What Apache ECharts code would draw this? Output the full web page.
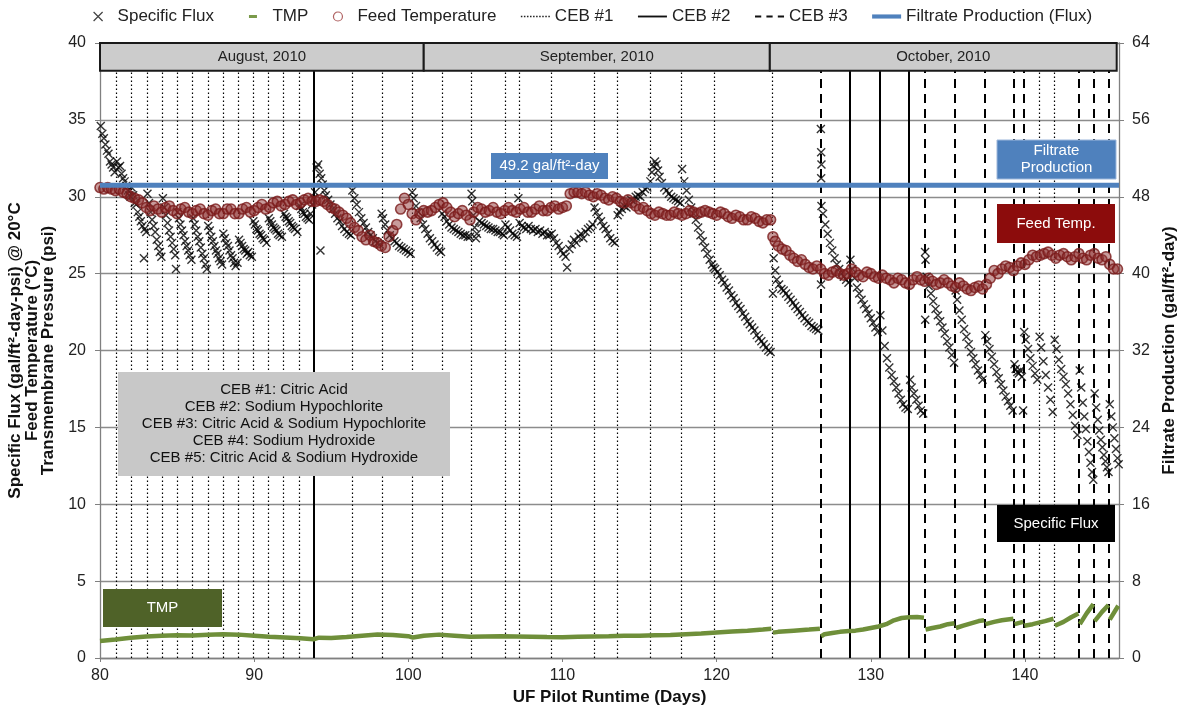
<!DOCTYPE html>
<html><head><meta charset="utf-8">
<script src="https://cdn.jsdelivr.net/npm/echarts@6/dist/echarts.min.js"></script>
<style>html,body{margin:0;padding:0;background:#fff}#chart{width:1177px;height:710px}</style>
</head><body><div id="chart"></div>
<script>
// ---------------- data ----------------
const monthNames = ['August, 2010', 'September, 2010', 'October, 2010'];
const monthStarts = [80, 101.0, 123.45];
const monthEnds = [101.0, 123.45, 145.95];

const ceb1Days = [81.04, 82.01, 83.03, 84.04, 84.97, 85.99, 86.98, 87.96, 88.97, 89.90, 90.90, 91.89, 92.91,
  96.32, 98.31, 100.21, 102.16, 104.06, 106.26, 107.17, 109.25, 112.04, 113.53, 115.65, 117.72, 119.84, 123.60,
  140.92, 141.89];
const ceb2Days = [93.90, 128.64, 130.58, 132.51];
const ceb3Days = [126.74, 133.50, 135.47, 137.39, 139.29, 139.92, 143.51, 144.48, 145.46];

const filtrateDays = [80, 146.1];
const filtrateFlux = [49.2, 49.2];

const fluxData = [
[80.05,34.6],[80.15,34.1],[80.25,33.8],[80.35,33.4],[80.45,33.0],[80.55,32.8],[80.65,32.3],[80.75,32.1],[80.85,31.9],[80.95,31.6],
[81.1,32.3],[81.2,31.9],[81.3,32.0],[81.4,31.5],[81.5,31.2],[81.6,31.0],[81.7,30.7],[81.8,30.4],[81.9,30.1],[81.98,30.0],
[82.05,30.6],[82.15,30.1],[82.25,29.6],[82.35,29.5],[82.45,29.0],[82.55,28.7],[82.65,28.4],[82.75,28.1],[82.85,26.0],[82.9,27.9],[83.0,27.7],
[83.08,30.2],[83.18,29.6],[83.28,29.0],[83.38,28.5],[83.48,28.1],[83.58,27.7],[83.68,27.2],[83.78,26.8],[83.88,26.4],[83.98,26.1],
[84.08,29.9],[84.18,29.3],[84.28,28.8],[84.38,28.3],[84.48,27.8],[84.58,27.4],[84.68,27.0],[84.78,26.6],[84.88,26.2],[84.93,25.3],
[85.02,29.0],[85.12,28.6],[85.22,28.2],[85.32,27.8],[85.42,27.5],[85.52,27.1],[85.62,26.8],[85.72,26.5],[85.82,26.2],[85.93,25.9],
[86.04,28.6],[86.14,28.2],[86.24,27.8],[86.34,27.4],[86.44,27.1],[86.54,26.7],[86.64,26.3],[86.74,26.0],[86.84,25.6],[86.93,25.3],
[87.02,28.1],[87.12,27.8],[87.22,27.4],[87.32,27.1],[87.42,26.8],[87.52,26.5],[87.62,26.3],[87.72,26.0],[87.82,25.8],[87.92,25.6],
[88.0,27.6],[88.1,27.3],[88.2,27.0],[88.3,26.8],[88.4,26.5],[88.5,26.2],[88.6,26.0],[88.7,25.7],[88.8,25.5],[88.92,25.7],
[89.02,27.2],[89.12,27.0],[89.22,26.8],[89.32,26.6],[89.42,26.5],[89.52,26.3],[89.62,26.4],[89.72,26.2],[89.85,26.1],
[89.95,28.4],[90.05,28.2],[90.15,27.9],[90.25,27.8],[90.35,27.6],[90.45,27.5],[90.55,27.3],[90.65,27.2],[90.8,27.0],
[90.95,28.6],[91.05,28.4],[91.15,28.2],[91.25,28.0],[91.35,27.9],[91.45,27.8],[91.55,27.6],[91.65,27.5],[91.8,27.4],
[91.94,28.9],[92.04,28.7],[92.14,28.6],[92.24,28.4],[92.34,28.3],[92.44,28.1],[92.54,28.0],[92.64,27.9],[92.8,27.7],
[92.96,29.4],[93.06,29.2],[93.16,29.0],[93.26,28.9],[93.36,28.7],[93.46,28.6],[93.56,28.5],[93.66,28.9],[93.76,29.5],[93.86,29.9],
[93.95,30.3],[94.05,31.9],[94.15,32.1],[94.25,31.5],[94.3,26.5],[94.35,31.2],[94.45,30.8],[94.55,30.4],[94.65,30.1],[94.8,29.8],[94.95,29.5],[95.1,29.2],[95.25,28.9],[95.4,28.6],[95.55,28.4],[95.7,28.1],[95.85,27.9],[96.0,27.7],[96.15,27.6],[96.28,27.5],
[96.37,30.4],[96.5,29.9],[96.65,29.5],[96.8,29.0],[96.95,28.6],[97.1,28.3],[97.25,28.0],[97.4,27.7],[97.55,27.5],[97.7,27.3],[97.85,27.1],[98.0,27.0],[98.15,26.9],[98.27,28.9],
[98.36,28.6],[98.5,28.2],[98.65,27.8],[98.8,27.5],[98.95,27.3],[99.1,27.1],[99.25,27.0],[99.4,26.8],[99.55,26.7],[99.7,26.6],[99.85,26.5],[100.0,26.4],[100.15,26.3],
[100.25,30.3],[100.35,29.9],[100.5,29.4],[100.65,29.0],[100.8,28.6],[100.95,28.2],[101.1,27.9],[101.25,27.6],[101.4,27.3],[101.55,27.1],[101.7,26.9],[101.85,26.7],[102.0,26.5],[102.12,26.4],
[102.2,28.9],[102.35,28.7],[102.5,28.4],[102.65,28.2],[102.8,28.0],[102.95,27.9],[103.1,27.8],[103.25,27.7],[103.4,27.6],[103.55,27.5],[103.7,27.5],[103.85,27.4],[104.0,27.4],
[104.1,30.2],[104.15,29.7],[104.22,28.8],[104.3,28.0],[104.38,27.3],[104.45,27.6],[104.6,28.4],[104.75,28.3],[104.9,28.2],[105.05,28.1],[105.2,28.0],[105.35,27.9],[105.5,27.9],[105.65,27.8],[105.8,27.7],[105.95,27.7],[106.1,27.6],[106.2,27.5],
[106.3,28.2],[106.45,28.0],[106.6,27.8],[106.75,27.6],[106.9,27.5],[107.05,27.4],[107.14,29.9],
[107.22,28.3],[107.35,28.1],[107.5,28.0],[107.65,27.9],[107.8,28.1],[107.95,27.9],[108.1,27.8],[108.25,27.9],[108.4,27.7],[108.55,27.8],[108.7,27.6],[108.85,27.7],[109.0,27.5],[109.15,27.5],
[109.3,27.6],[109.45,27.3],[109.6,27.0],[109.75,26.8],[109.9,26.5],[110.05,26.3],[110.2,26.1],[110.3,25.4],[110.45,26.6],[110.6,26.9],[110.75,27.2],[110.9,27.0],[111.05,27.4],[111.2,27.6],[111.35,27.3],[111.5,27.7],[111.65,27.9],[111.8,28.0],[111.95,28.2],
[112.08,29.3],[112.2,29.0],[112.35,28.7],[112.5,28.4],[112.65,28.1],[112.8,27.9],[112.95,27.6],[113.1,27.3],[113.25,27.1],[113.4,27.0],
[113.58,28.8],[113.7,29.0],[113.85,29.2],[114.0,29.4],[114.15,29.3],[114.3,29.6],[114.45,29.8],[114.6,29.7],[114.75,30.0],[114.9,30.1],[115.05,30.0],[115.2,30.3],[115.35,30.5],[115.5,30.6],
[115.7,31.0],[115.8,31.6],[115.9,32.0],[116.0,32.3],[116.1,32.1],[116.2,31.7],[116.3,31.3],[116.45,30.9],[116.6,30.6],[116.75,30.4],[116.9,30.2],[117.05,30.0],[117.2,29.9],[117.35,29.8],[117.5,29.7],[117.65,29.6],
[117.76,31.8],[117.9,31.0],[118.05,30.4],[118.2,29.8],[118.35,29.3],[118.5,28.9],[118.65,28.5],[118.8,28.0],[118.95,27.5],[119.1,27.1],[119.25,26.7],[119.4,26.3],[119.55,25.9],[119.7,25.6],[119.8,25.4],
[119.9,25.3],[120.05,25.1],[120.2,24.9],[120.35,24.6],[120.5,24.4],[120.65,24.1],[120.8,23.9],[120.95,23.6],[121.1,23.4],[121.25,23.1],[121.4,22.9],[121.55,22.7],[121.7,22.4],[121.85,22.2],[122.0,21.9],[122.15,21.7],[122.3,21.5],[122.45,21.3],[122.6,21.0],[122.75,20.8],[122.9,20.6],[123.05,20.4],[123.2,20.2],[123.35,20.0],[123.5,19.9],
[123.65,23.7],[123.7,26.0],[123.8,25.2],[123.9,24.6],[124.05,24.3],[124.2,24.0],[124.35,23.9],[124.5,23.7],[124.65,23.5],[124.8,23.3],[124.95,23.1],[125.1,22.9],[125.25,22.7],[125.4,22.5],[125.55,22.3],[125.7,22.1],[125.85,21.9],[126.0,21.8],[126.15,21.6],[126.3,21.5],[126.45,21.4],[126.6,21.3],
[126.76,34.4],[126.78,32.9],[126.8,32.1],[126.78,31.2],[126.8,29.4],[126.77,24.3],[126.9,28.9],[127.05,28.2],[127.2,27.6],[127.35,27.0],[127.5,26.5],[127.65,26.0],[127.8,25.6],[127.95,25.3],[128.1,25.0],[128.25,24.8],[128.4,24.6],[128.55,24.4],
[128.68,25.9],[128.8,25.3],[128.95,24.7],[129.1,24.1],[129.25,23.7],[129.4,23.3],[129.55,23.0],[129.7,22.7],[129.85,22.4],[130.0,22.1],[130.15,21.8],[130.3,21.5],[130.45,21.2],
[130.62,22.3],[130.75,21.3],[130.9,20.3],[131.05,19.5],[131.2,18.9],[131.35,18.4],[131.5,18.0],[131.65,17.6],[131.8,17.2],[131.95,16.8],[132.1,16.5],[132.25,16.3],[132.4,16.2],
[132.55,18.1],[132.65,17.6],[132.8,17.2],[132.95,16.8],[133.1,16.4],[133.25,16.1],[133.4,15.9],
[133.52,26.4],[133.55,25.9],[133.53,22.0],[133.62,24.8],[133.75,24.2],[133.9,23.7],[134.05,23.2],[134.2,22.7],[134.35,22.3],[134.5,21.9],[134.65,21.5],[134.8,21.1],[134.95,20.6],[135.1,20.2],[135.25,19.7],[135.4,19.2],
[135.5,23.9],[135.6,23.3],[135.75,22.6],[135.9,22.0],[136.05,21.4],[136.2,20.9],[136.35,20.4],[136.5,19.9],[136.65,19.5],[136.8,19.1],[136.95,18.7],[137.1,18.4],[137.25,18.1],
[137.43,21.0],[137.55,20.6],[137.7,20.1],[137.85,19.6],[138.0,19.1],[138.15,18.6],[138.3,18.2],[138.45,17.8],[138.6,17.4],[138.75,17.0],[138.9,16.7],[139.05,16.4],[139.2,16.1],
[139.32,19.1],[139.4,18.8],[139.5,18.6],[139.6,18.5],[139.7,18.7],[139.8,18.3],[139.88,16.1],
[139.95,21.2],[140.05,20.7],[140.2,20.1],[140.35,19.5],[140.5,19.0],[140.65,18.5],[140.8,18.1],
[140.95,20.9],[141.05,20.2],[141.2,19.3],[141.35,18.4],[141.5,17.6],[141.65,16.8],[141.8,16.0],
[141.93,20.7],[142.05,20.1],[142.2,19.4],[142.35,18.8],[142.5,18.3],[142.65,17.8],[142.8,17.2],[142.95,16.5],[143.1,15.8],[143.25,15.1],[143.4,14.5],
[143.55,18.7],[143.65,17.6],[143.75,16.6],[143.85,15.7],[143.95,14.9],[144.05,14.1],[144.15,13.4],[144.25,12.7],[144.35,12.1],[144.43,11.6],
[144.52,17.2],[144.62,16.3],[144.72,15.5],[144.82,14.8],[144.92,14.2],[145.02,13.7],[145.12,13.2],[145.22,12.8],[145.32,12.4],[145.42,12.1],
[145.5,16.5],[145.6,15.7],[145.7,15.0],[145.8,14.3],[145.9,13.6],[146.0,13.0],[146.08,12.6]
];

const tempData = [
[80.0,30.6],[80.25,30.5],[80.5,30.6],[80.75,30.5],[81.0,30.4],[81.25,30.5],[81.5,30.3],[81.75,30.2],
[82.0,30.0],[82.25,29.9],[82.5,29.8],[82.75,29.6],[83.0,29.3],[83.25,29.1],[83.5,29.4],[83.75,29.2],
[84.0,29.0],[84.25,29.3],[84.5,29.4],[84.75,29.1],[85.0,28.9],[85.25,29.2],[85.5,29.3],[85.75,29.0],
[86.0,28.9],[86.25,29.1],[86.5,29.2],[86.75,28.9],[87.0,28.8],[87.25,29.1],[87.5,29.2],[87.75,28.9],
[88.0,28.9],[88.25,29.2],[88.5,29.2],[88.75,28.9],[89.0,28.9],[89.25,29.2],[89.5,29.3],[89.75,29.0],
[90.0,29.1],[90.25,29.3],[90.5,29.5],[90.75,29.2],[91.0,29.3],[91.25,29.6],[91.5,29.7],[91.75,29.4],
[92.0,29.5],[92.25,29.7],[92.5,29.8],[92.75,29.5],[93.0,29.6],[93.25,29.8],[93.5,29.9],[93.75,29.7],
[94.0,29.7],[94.25,29.8],[94.5,29.7],[94.75,29.5],[95.0,29.3],[95.25,29.2],[95.5,29.0],[95.75,28.8],
[96.0,28.6],[96.25,28.3],[96.5,28.0],[96.75,27.8],[97.0,27.4],[97.25,27.2],[97.5,27.5],[97.75,27.1],
[98.0,27.0],[98.25,26.8],[98.5,26.7],[98.75,27.4],[99.0,27.8],[99.25,28.2],[99.5,29.2],[99.75,29.9],
[100.0,29.5],[100.25,28.9],[100.5,28.5],[100.75,28.9],[101.0,29.1],[101.25,29.0],[101.5,29.1],[101.75,29.3],
[102.0,29.5],[102.25,29.6],[102.5,29.3],[102.75,29.0],[103.0,28.7],[103.25,28.9],[103.5,29.1],[103.75,28.8],
[104.0,28.5],[104.25,29.0],[104.5,29.3],[104.75,29.2],[105.0,29.0],[105.25,29.1],[105.5,29.3],[105.75,29.0],
[106.0,28.9],[106.25,29.1],[106.5,29.3],[106.75,29.1],[107.0,29.0],[107.25,29.2],[107.5,29.3],[107.75,29.0],
[108.0,29.0],[108.25,29.2],[108.5,29.4],[108.75,29.1],[109.0,29.1],[109.25,29.3],[109.5,29.4],[109.75,29.2],
[110.0,29.3],[110.25,29.4],[110.5,30.2],[110.75,30.3],[111.0,30.3],[111.25,30.2],[111.5,30.3],[111.75,30.1],
[112.0,30.0],[112.25,30.2],[112.5,30.1],[112.75,29.9],[113.0,29.8],[113.25,30.0],[113.5,29.9],[113.75,29.7],
[114.0,29.6],[114.25,29.8],[114.5,29.6],[114.75,29.4],[115.0,29.2],[115.25,29.3],[115.5,29.1],[115.75,28.9],
[116.0,28.8],[116.25,29.0],[116.5,28.9],[116.75,28.8],[117.0,28.8],[117.25,29.0],[117.5,28.9],[117.75,28.8],
[118.0,28.9],[118.25,29.1],[118.5,29.0],[118.75,28.9],[119.0,29.0],[119.25,29.1],[119.5,29.0],[119.75,28.9],
[120.0,28.8],[120.25,29.0],[120.5,28.9],[120.75,28.7],[121.0,28.6],[121.25,28.8],[121.5,28.7],[121.75,28.5],
[122.0,28.5],[122.25,28.7],[122.5,28.6],[122.75,28.4],[123.0,28.3],[123.25,28.5],[123.5,28.5],
[123.65,27.4],[123.8,27.1],[124.0,26.8],[124.25,26.6],[124.5,26.5],[124.75,26.2],
[125.0,26.0],[125.25,25.8],[125.5,25.9],[125.75,25.6],[126.0,25.4],[126.25,25.3],[126.5,25.5],[126.75,25.3],
[127.0,25.0],[127.25,24.9],[127.5,25.1],[127.75,25.2],[128.0,25.0],[128.25,24.9],[128.5,25.0],[128.75,25.3],
[129.0,25.1],[129.25,24.9],[129.5,24.8],[129.75,25.1],[130.0,25.0],[130.25,24.8],[130.5,24.7],[130.75,24.9],
[131.0,24.7],[131.25,24.6],[131.5,24.4],[131.75,24.7],[132.0,24.6],[132.25,24.4],[132.5,24.3],[132.75,24.6],
[133.0,24.8],[133.25,24.6],[133.5,24.5],[133.75,24.7],[134.0,24.5],[134.25,24.3],[134.5,24.4],[134.75,24.6],
[135.0,24.4],[135.25,24.2],[135.5,24.1],[135.75,24.4],[136.0,24.2],[136.25,24.0],[136.5,23.9],[136.75,24.1],
[137.0,24.2],[137.25,24.0],[137.5,24.3],[137.75,24.7],[138.0,25.2],[138.25,25.0],[138.5,25.3],[138.75,25.5],
[139.0,25.4],[139.25,25.2],[139.5,25.5],[139.75,25.7],[140.0,25.6],[140.25,25.9],[140.5,26.2],[140.75,26.1],
[141.0,26.2],[141.25,26.3],[141.5,26.4],[141.75,26.2],[142.0,26.0],[142.25,26.2],[142.5,26.3],[142.75,26.1],
[143.0,25.9],[143.25,26.1],[143.5,26.3],[143.75,26.0],[144.0,25.9],[144.25,26.2],[144.5,26.3],[144.75,26.0],
[145.0,25.9],[145.25,26.1],[145.5,25.6],[145.75,25.3],[146.0,25.3]
];

const tmpData = [
[80,1.1],[81,1.2],[82,1.32],[83,1.4],[84,1.45],[85,1.48],[86,1.47],[87,1.52],[88,1.54],[89,1.52],[90,1.45],
[91,1.38],[92,1.33],[93,1.28],[93.85,1.22],[94.2,1.32],[95,1.3],[96,1.36],[97,1.45],[98,1.53],[99,1.5],
[100,1.42],[100.3,1.33],[101,1.45],[102,1.52],[103,1.45],[104,1.38],[105,1.4],[106,1.42],[107,1.4],[108,1.38],
[109,1.36],[110,1.35],[111,1.38],[112,1.4],[113,1.42],[114,1.45],[115,1.45],[116,1.48],[117,1.5],[118,1.55],
[119,1.6],[120,1.66],[121,1.72],[122,1.78],[123,1.85],[123.55,1.9],[123.6,'-'],
[123.65,1.65],[124,1.7],[125,1.78],[126,1.85],[126.7,1.9],[126.74,'-'],
[126.78,1.4],[127,1.55],[127.5,1.63],[128,1.7],[128.6,1.75],[129,1.78],[129.5,1.85],[130,1.95],[130.5,2.05],
[131,2.2],[131.5,2.45],[132,2.6],[132.5,2.65],[133,2.66],[133.45,2.62],[133.5,'-'],
[133.55,1.85],[134,1.95],[134.5,2.05],[135,2.2],[135.43,2.26],[135.47,'-'],
[135.52,1.95],[136,2.1],[136.5,2.25],[137,2.4],[137.35,2.45],[137.39,'-'],
[137.44,2.2],[138,2.35],[138.5,2.45],[139.25,2.55],[139.29,'-'],
[139.33,2.2],[139.88,2.35],[139.92,'-'],
[139.96,2.1],[140.5,2.2],[140.9,2.3],[141.3,2.4],[141.85,2.55],[141.89,'-'],
[141.94,2.1],[142.5,2.35],[143,2.65],[143.47,2.9],[143.51,'-'],
[143.56,2.2],[144,2.9],[144.44,3.5],[144.48,'-'],
[144.52,2.4],[145,3.0],[145.42,3.45],[145.46,'-'],
[145.5,2.5],[146.05,3.4]
];

// ---------------- chart ----------------
const FONT = '"Liberation Sans", Arial, sans-serif';
const BAND_LOW = 38.2, BAND_HIGH = 40;

function vLines(name, days, dash, width) {
  return {
    name: name, type: 'custom', z: 3, silent: true,
    xAxisIndex: 0, yAxisIndex: 0,
    itemStyle: { color: '#000' },
    encode: { x: 0, y: 1 },
    data: days.map(d => [d, 0]),
    renderItem: function (params, api) {
      const x = api.value(0);
      const p0 = api.coord([x, 0]);
      const p1 = api.coord([x, BAND_LOW]);
      const px = Math.round(p0[0]) + (width % 2 ? 0.5 : 0);
      return { type: 'line', shape: { x1: px, y1: p0[1], x2: px, y2: p1[1] },
        style: { stroke: '#000', lineWidth: width, lineDash: dash } };
    }
  };
}

function textBox(x, y, w, h, fill, text, color, stroke) {
  return [
    { type: 'rect', z: 50, silent: true, shape: { x: x, y: y, width: w, height: h },
      style: { fill: fill, stroke: stroke || null, lineWidth: stroke ? 1 : 0 } },
    { type: 'text', z: 51, silent: true,
      style: { x: x + w / 2, y: y + h / 2, text: text, fill: color, font: '15px ' + FONT,
        textAlign: 'center', textVerticalAlign: 'middle', align: 'center', verticalAlign: 'middle', lineHeight: 17 } }
  ];
}

const dotIcon = 'path://M0,0h1.5v1.5h-1.5zM3,0h1.5v1.5h-1.5zM6,0h1.5v1.5h-1.5zM9,0h1.5v1.5h-1.5zM12,0h1.5v1.5h-1.5zM15,0h1.5v1.5h-1.5zM18,0h1.5v1.5h-1.5zM21,0h1.5v1.5h-1.5zM24,0h1.5v1.5h-1.5zM27,0h1.5v1.5h-1.5z';
const solidIcon = 'path://M0,0h28v1.8h-28z';
const dashIcon = 'path://M0,0h6v2h-6zM11,0h6v2h-6zM22,0h6v2h-6z';
const blueIcon = 'path://M0,0h28v4h-28z';
const crossIcon = 'path://M0,0L8,8M8,0L0,8';
const tmpIcon = 'path://M-10.5,-3M18.5,6M0,0h8v3h-8z';

const chart = echarts.init(document.getElementById('chart'), null, { renderer: 'canvas' });
const option = {
  animation: false,
  backgroundColor: '#fff',
  textStyle: { fontFamily: FONT },
  grid: { left: 100, right: 58, top: 43, bottom: 52, containLabel: false, outerBoundsMode: 'none' },
  legend: {
    left: 93, top: 8, itemGap: 24.5, itemWidth: 29, itemHeight: 9, padding: 0,
    selectedMode: false,
    textStyle: { fontSize: 17, color: '#222', fontFamily: FONT },
    data: [
      { name: 'Specific Flux', icon: crossIcon, itemStyle: { color: 'rgba(0,0,0,0)', borderColor: '#111', borderWidth: 1.2 } },
      { name: 'TMP', icon: tmpIcon, itemStyle: { color: '#7a9a4a', borderWidth: 0 } },
      { name: 'Feed Temperature', icon: 'circle', itemStyle: { color: 'rgba(0,0,0,0)', borderColor: '#9b3a3a', borderWidth: 1.2 } },
      { name: 'CEB #1', icon: dotIcon, itemStyle: { color: '#222', borderWidth: 0 } },
      { name: 'CEB #2', icon: solidIcon, itemStyle: { color: '#111', borderWidth: 0 } },
      { name: 'CEB #3', icon: dashIcon, itemStyle: { color: '#111', borderWidth: 0 } },
      { name: 'Filtrate Production (Flux)', icon: blueIcon, itemStyle: { color: '#4f81bd', borderWidth: 0 } }
    ]
  },
  xAxis: {
    type: 'value', min: 80, max: 146.1, interval: 10,
    axisLine: { show: true, lineStyle: { color: '#808080', width: 1.3 } },
    axisTick: { show: true, length: 4, lineStyle: { color: '#808080' } },
    splitLine: { show: false },
    axisLabel: { fontSize: 16, color: '#222', margin: 10, showMaxLabel: false },
    name: 'UF Pilot Runtime (Days)', nameLocation: 'middle', nameGap: 31,
    nameTextStyle: { fontSize: 17, fontWeight: 'bold', color: '#111' }
  },
  yAxis: [
    {
      type: 'value', min: 0, max: 40, interval: 5, position: 'left',
      axisLine: { show: true, lineStyle: { color: '#808080', width: 1.3 } },
      axisTick: { show: true, length: 5, lineStyle: { color: '#808080' } },
      splitLine: { show: true, lineStyle: { color: '#8c8c8c', width: 1.3 } },
      axisLabel: { fontSize: 16, color: '#222', margin: 14 },
      name: 'Specific Flux (gal/ft²-day-psi) @ 20°C\nFeed Temperature (°C)\nTransmembrane Pressure (psi)',
      nameLocation: 'middle', nameGap: 39, nameRotate: 90,
      nameTextStyle: { fontSize: 17, fontWeight: 'bold', color: '#111', lineHeight: 16.5, align: 'center' }
    },
    {
      type: 'value', min: 0, max: 64, interval: 8, position: 'right',
      axisLine: { show: true, lineStyle: { color: '#808080', width: 1.3 } },
      axisTick: { show: true, length: 5, lineStyle: { color: '#808080' } },
      splitLine: { show: false },
      axisLabel: { fontSize: 16, color: '#222', margin: 13 },
      name: 'Filtrate Production (gal/ft²-day)',
      nameLocation: 'middle', nameGap: 35, nameRotate: 90,
      nameTextStyle: { fontSize: 17, fontWeight: 'bold', color: '#111' }
    }
  ],
  series: [
    {
      name: 'Specific Flux', type: 'scatter', yAxisIndex: 0, z: 4, silent: true,
      data: fluxData, symbol: crossIcon, symbolSize: 8,
      itemStyle: { color: 'rgba(0,0,0,0)', borderColor: '#000', borderWidth: 1.4 }
    },
    {
      name: 'TMP', type: 'line', yAxisIndex: 0, z: 4, silent: true,
      data: tmpData, symbol: 'none', showSymbol: false, connectNulls: false,
      lineStyle: { color: '#6f8f3a', width: 4.5 }, itemStyle: { color: '#6f8f3a' }
    },
    {
      name: 'Feed Temperature', type: 'scatter', yAxisIndex: 0, z: 5, silent: true,
      data: tempData, symbol: 'circle', symbolSize: 10,
      itemStyle: { color: 'rgba(140,45,45,0.6)', borderColor: '#7a1a1a', borderWidth: 1.6 }
    },
    vLines('CEB #1', ceb1Days, [1.5, 2.5], 1.2),
    vLines('CEB #2', ceb2Days, null, 2),
    vLines('CEB #3', ceb3Days, [9, 6], 2),
    {
      name: 'Filtrate Production (Flux)', type: 'line', yAxisIndex: 1, z: 6, silent: true,
      data: filtrateDays.map((d, i) => [d, filtrateFlux[i]]), symbol: 'none',
      lineStyle: { color: '#4f81bd', width: 5 }, itemStyle: { color: '#4f81bd' }
    },
    {
      name: 'months', type: 'custom', z: 10, silent: true, xAxisIndex: 0, yAxisIndex: 0,
      encode: { x: [0, 1], y: 2 },
      data: monthNames.map((m, i) => [monthStarts[i], monthEnds[i], BAND_HIGH]),
      renderItem: function (params, api) {
        const a = api.coord([api.value(0), BAND_HIGH]);
        const b = api.coord([api.value(1), BAND_LOW]);
        return { type: 'group', children: [
          { type: 'rect', shape: { x: a[0], y: a[1], width: b[0] - a[0], height: b[1] - a[1] },
            style: { fill: '#cccccc', stroke: '#1a1a1a', lineWidth: 2 } },
          { type: 'text', style: { text: monthNames[params.dataIndex], x: (a[0] + b[0]) / 2, y: (a[1] + b[1]) / 2,
            align: 'center', verticalAlign: 'middle', fill: '#222', font: '15px ' + FONT } }
        ] };
      }
    }
  ],
  graphic: [].concat(
    textBox(491, 153, 117, 26, '#4f81bd', '49.2 gal/ft²-day', '#fff'),
    textBox(997, 140, 119, 39, '#4f81bd', 'Filtrate\nProduction', '#fff', '#9db7db'),
    textBox(997, 204, 118, 39, '#8c0c0c', 'Feed Temp.', '#fff'),
    textBox(997, 505, 118, 37, '#000000', 'Specific Flux', '#fff'),
    textBox(103, 589, 119, 38, '#4f6228', 'TMP', '#fff'),
    textBox(118, 372, 332, 104, '#c8c8c8',
      'CEB #1: Citric Acid\nCEB #2: Sodium Hypochlorite\nCEB #3: Citric Acid & Sodium Hypochlorite\nCEB #4: Sodium Hydroxide\nCEB #5: Citric Acid & Sodium Hydroxide',
      '#111')
  )
};
chart.setOption(option);
</script>
</body></html>
